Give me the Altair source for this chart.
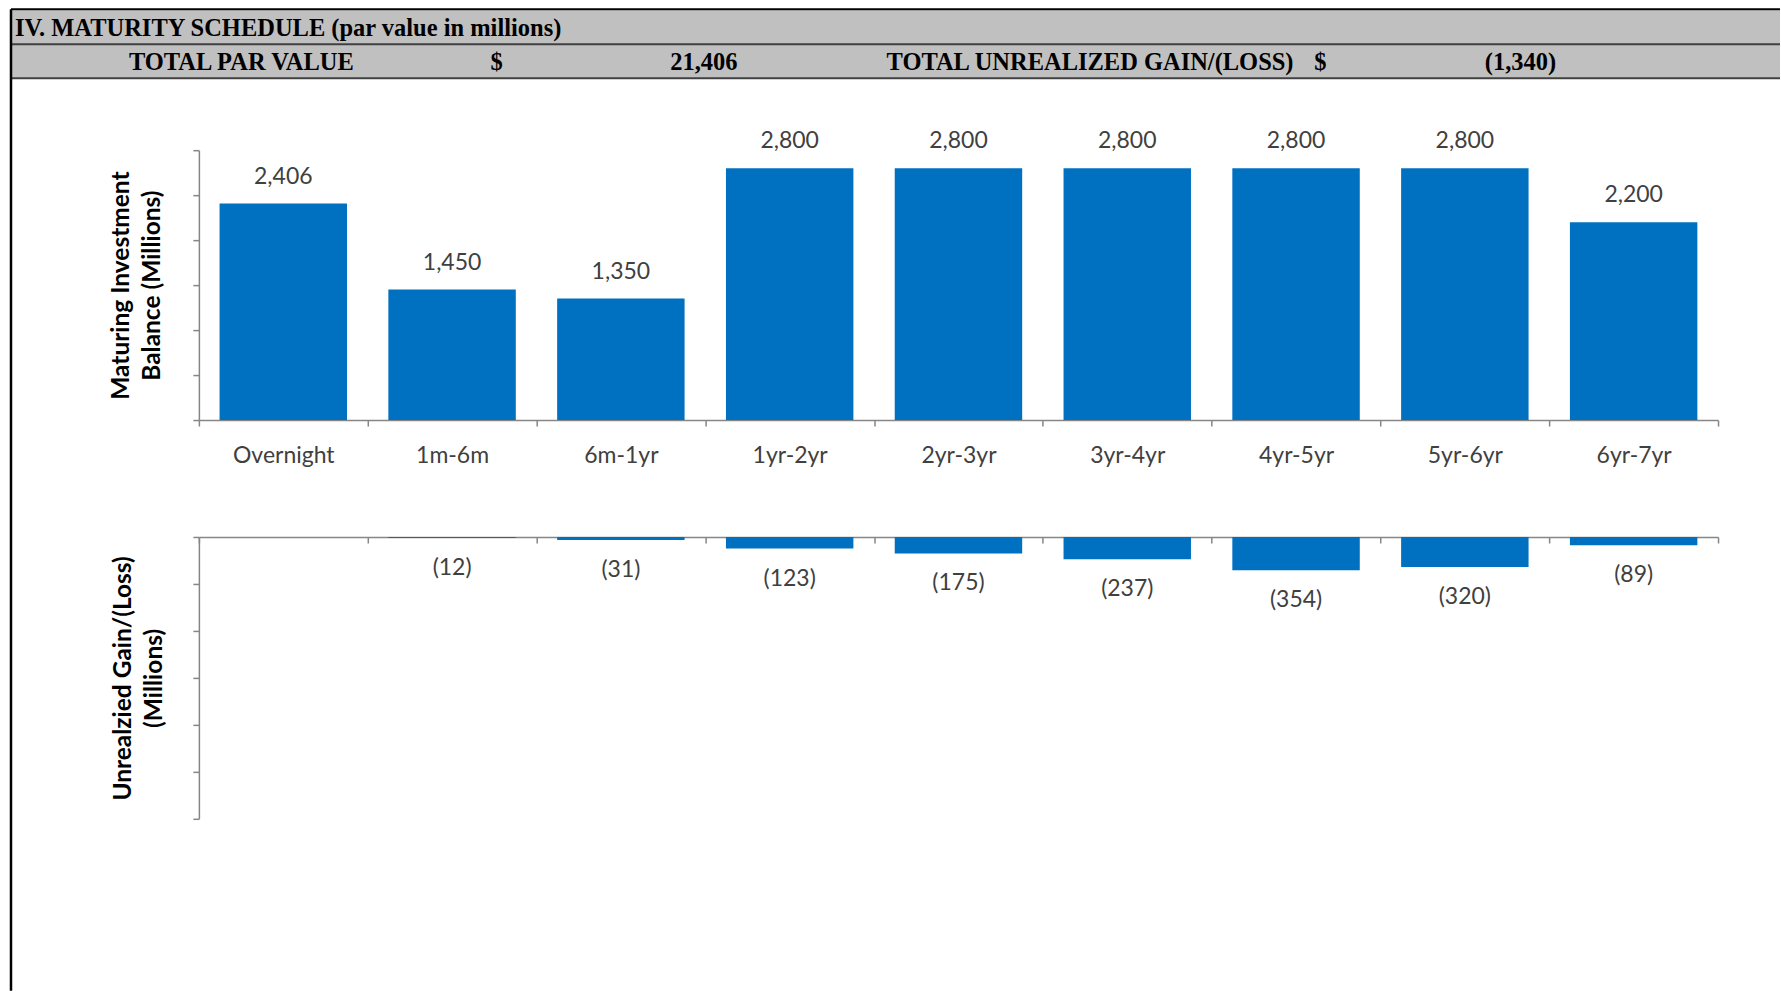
import altair as alt
import pandas as pd

# ---- data ----
categories = ["Overnight", "1m-6m", "6m-1yr", "1yr-2yr", "2yr-3yr",
              "3yr-4yr", "4yr-5yr", "5yr-6yr", "6yr-7yr"]
balances = [2406, 1450, 1350, 2800, 2800, 2800, 2800, 2800, 2200]
gains = [None, -12, -31, -123, -175, -237, -354, -320, -89]

header_title = "IV. MATURITY SCHEDULE (par value in millions)"
par_label = "TOTAL PAR VALUE"
par_value = "21,406"
gain_label = "TOTAL UNREALIZED GAIN/(LOSS)"
gain_value = "(1,340)"
currency = "$"

upper_title = ["Maturing Investment", "Balance (Millions)"]
lower_title = ["Unrealzied Gain/(Loss)", "(Millions)"]
balance_ticks = [0, 500, 1000, 1500, 2000, 2500, 3000]
gain_ticks = [0, -500, -1000, -1500, -2000, -2500, -3000]

df = pd.DataFrame({"cat": categories, "bal": balances, "gain": gains})

W, H1, H2 = 1520, 270, 282
BLUE = "#0070C0"
TXT = "#404040"
FONT = "Lato"
LBL = 23
BARW = {"band": 0.755}

xscale = alt.Scale(domain=categories, paddingInner=0, paddingOuter=0)

# ---- header decorations (relative to upper plot origin) ----
one = pd.DataFrame({"t": [""]})
L, R = -188, 1582
hdr_bg = alt.Chart(one).mark_rect(color="#C0C0C0").encode(
    x=alt.value(L), x2=alt.value(R), y=alt.value(-140), y2=alt.value(-72))
hdr_top = alt.Chart(one).mark_rule(color="black", strokeWidth=2).encode(
    x=alt.value(L), x2=alt.value(R), y=alt.value(-141))
hdr_mid = alt.Chart(one).mark_rule(color="#404040", strokeWidth=2).encode(
    x=alt.value(L), x2=alt.value(R), y=alt.value(-106))
hdr_bot = alt.Chart(one).mark_rule(color="#404040", strokeWidth=2).encode(
    x=alt.value(L), x2=alt.value(R), y=alt.value(-72))
left_line = alt.Chart(one).mark_rule(color="black", strokeWidth=2.5).encode(
    x=alt.value(L), y=alt.value(-141), y2=alt.value(841))


def htext(txt, x, y, align):
    return alt.Chart(pd.DataFrame({"t": [txt]})).mark_text(
        font="Liberation Serif", fontWeight="bold", fontSize=24.5,
        color="black", align=align, baseline="middle"
    ).encode(x=alt.value(x), y=alt.value(y), text="t:N")


header = [
    htext(header_title, -184, -121, "left"),
    htext(par_label, -70, -87, "left"),
    htext(currency, 298, -87, "center"),
    htext(par_value, 539, -87, "right"),
    htext(gain_label, 688, -87, "left"),
    htext(currency, 1122, -87, "center"),
    htext(gain_value, 1358, -87, "right"),
]

# ---- upper chart ----
ubase = alt.Chart(df)
ubars = ubase.mark_bar(color=BLUE, width=BARW).encode(
    x=alt.X("cat:N", sort=categories, scale=xscale,
            axis=alt.Axis(title=None, tickBand="extent", labelFont=FONT,
                          labelFontSize=LBL, labelColor=TXT, labelPadding=18,
                          labelAngle=0, tickSize=6)),
    y=alt.Y("bal:Q", scale=alt.Scale(domain=[0, 3000], nice=False),
            axis=alt.Axis(values=balance_ticks, labels=False, grid=False,
                          title=upper_title, titleFont=FONT, titleFontSize=24.5,
                          titleFontWeight="bold", titleColor="black",
                          titleLineHeight=31, titlePadding=28, tickSize=6)),
)
ulabels = ubase.mark_text(font=FONT, fontSize=LBL, color=TXT, dy=-27,
                          baseline="middle").encode(
    x=alt.X("cat:N", sort=categories, scale=xscale),
    y="bal:Q",
    text=alt.Text("bal:Q", format=","),
)
upper = alt.layer(hdr_bg, hdr_top, hdr_mid, hdr_bot, left_line, *header,
                  ubars, ulabels).properties(width=W, height=H1)

# ---- lower chart ----
lbase = alt.Chart(df).transform_filter("datum.gain != null").transform_calculate(
    lab="'(' + format(abs(datum.gain), ',') + ')'")
lbars = lbase.mark_bar(color=BLUE, width=BARW).encode(
    x=alt.X("cat:N", sort=categories, scale=xscale,
            axis=alt.Axis(title=None, tickBand="extent", labels=False,
                          tickSize=6, orient="bottom", offset=-H2)),
    y=alt.Y("gain:Q", scale=alt.Scale(domain=[-3000, 0], nice=False),
            axis=alt.Axis(values=gain_ticks, labels=False, grid=False,
                          title=lower_title, titleFont=FONT, titleFontSize=24.5,
                          titleFontWeight="bold", titleColor="black",
                          titleLineHeight=31, titlePadding=26, tickSize=6)),
)
llabels = lbase.mark_text(font=FONT, fontSize=LBL, color=TXT, dy=30,
                          baseline="middle").encode(
    x=alt.X("cat:N", sort=categories, scale=xscale),
    y="gain:Q",
    text="lab:N",
)
lower = alt.layer(lbars, llabels).properties(width=W, height=H2)

chart = alt.vconcat(upper, lower, spacing=117, bounds="flush").properties(
    padding={"left": 9, "top": 7, "right": 0, "bottom": 0}
).configure_view(stroke=None).configure_axis(
    domainColor="#868686", tickColor="#868686", domainWidth=1.5, tickWidth=1.5
)

chart.save("out.html", embed_options={"renderer": "svg", "actions": False})
